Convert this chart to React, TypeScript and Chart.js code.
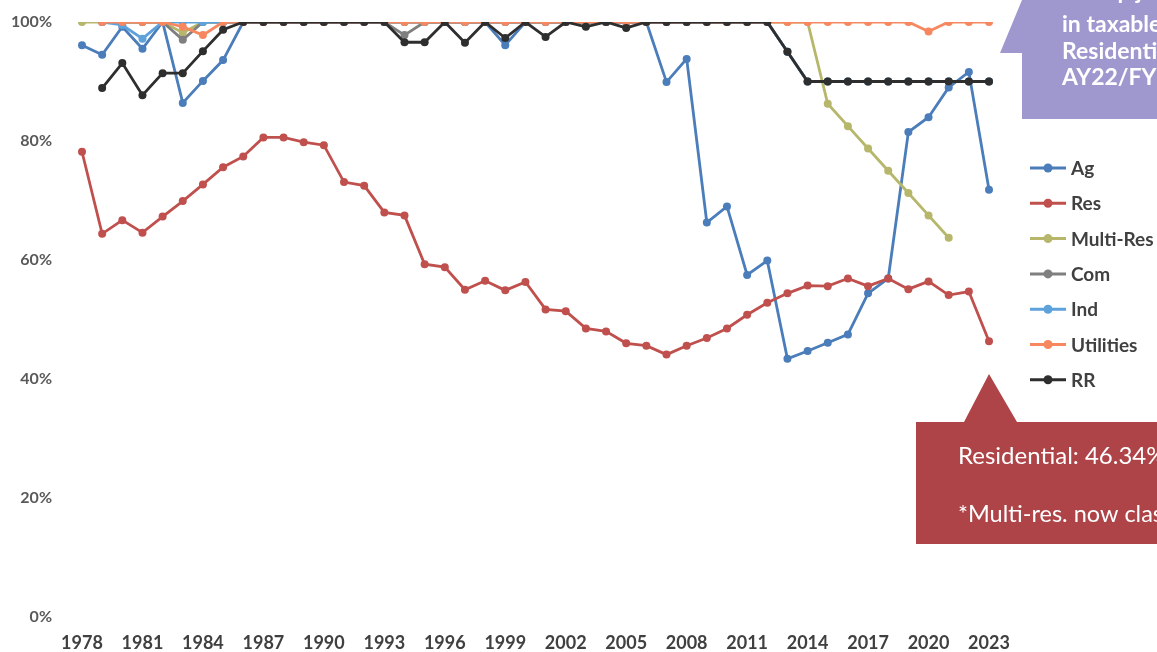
import { useEffect, useRef } from "react";
import { Chart, registerables } from "chart.js";

Chart.register(...registerables);

// Assessment years on the category axis
const years = [
  "1978", "1979", "1980", "1981", "1982", "1983", "1984", "1985", "1986", "1987",
  "1988", "1989", "1990", "1991", "1992", "1993", "1994", "1995", "1996", "1997",
  "1998", "1999", "2000", "2001", "2002", "2003", "2004", "2005", "2006", "2007",
  "2008", "2009", "2010", "2011", "2012", "2013", "2014", "2015", "2016", "2017",
  "2018", "2019", "2020", "2021", "2022", "2023",
];

// Rollback percentage per property class, one value per year
const ag = [
  96.1, 94.5, 99.2, 95.5, 100, 86.4, 90.1, 93.6, 100, 100,
  100, 100, 100, 100, 100, 100, 100, 100, 100, 100,
  100, 96.1, 100, 100, 100, 100, 100, 100, 100, 89.9,
  93.8, 66.3, 69.0, 57.5, 59.9, 43.4, 44.7, 46.1, 47.5, 54.4,
  56.9, 81.5, 84.0, 89.0, 91.6, 71.8,
];
const res = [
  78.2, 64.4, 66.7, 64.6, 67.3, 69.9, 72.7, 75.6, 77.4, 80.6,
  80.6, 79.8, 79.3, 73.1, 72.5, 68.0, 67.5, 59.3, 58.8, 55.0,
  56.5, 54.9, 56.3, 51.7, 51.4, 48.5, 48.0, 46.0, 45.6, 44.1,
  45.6, 46.9, 48.5, 50.8, 52.8, 54.4, 55.7, 55.6, 56.9, 55.6,
  56.9, 55.1, 56.4, 54.1, 54.7, 46.34,
];
const multiRes = [
  100, 100, 100, 100, 100, 98.2, 100, 100, 100, 100,
  100, 100, 100, 100, 100, 100, 100, 100, 100, 100,
  100, 100, 100, 100, 100, 100, 100, 100, 100, 100,
  100, 100, 100, 100, 100, 100, 100, 86.25, 82.5, 78.75,
  75.0, 71.25, 67.5, 63.75, null, null,
];
const com = [
  null, 100, 100, 100, 100, 97.0, 100, 100, 100, 100,
  100, 100, 100, 100, 100, 100, 97.8, 100, 100, 100,
  100, 100, 100, 100, 100, 100, 100, 100, 100, 100,
  100, 100, 100, 100, 100, 95, 90, 90, 90, 90,
  90, 90, 90, 90, 90, 90,
];
const ind = [
  null, 100, 99.5, 97.2, 100, 100, 100, 100, 100, 100,
  100, 100, 100, 100, 100, 100, 100, 100, 100, 100,
  100, 100, 100, 100, 100, 100, 100, 100, 100, 100,
  100, 100, 100, 100, 100, 95, 90, 90, 90, 90,
  90, 90, 90, 90, 90, 90,
];
const utilities = [
  null, 100, 100, 100, 100, 99.2, 97.8, 100, 100, 100,
  100, 100, 100, 100, 100, 100, 100, 100, 100, 100,
  100, 100, 100, 100, 100, 100, 100, 100, 100, 100,
  100, 100, 100, 100, 100, 100, 100, 100, 100, 100,
  100, 100, 98.4, 100, 100, 100,
];
const rr = [
  null, 88.9, 93.1, 87.7, 91.4, 91.4, 95.1, 98.7, 100, 100,
  100, 100, 100, 100, 100, 100, 96.6, 96.6, 100, 96.5,
  100, 97.3, 100, 97.5, 100, 99.2, 100, 99.0, 100, 100,
  100, 100, 100, 100, 100, 95, 90, 90, 90, 90,
  90, 90, 90, 90, 90, 90,
];

const yTicks = [0, 20, 40, 60, 80, 100];

const seriesNames = ["Ag", "Res", "Multi-Res", "Com", "Ind", "Utilities", "RR"];
const seriesData = [ag, res, multiRes, com, ind, utilities, rr];
const seriesColors = ["#4a7dba", "#c0504d", "#b7b76c", "#7f7f7f", "#5ea2dc", "#f7875f", "#2e2e2e"];

const residentialNote = "Residential: 46.34%";
const multiResNote = "*Multi-res. now classified as Res";
const topNote = ["*Sharp jump", "in taxable", "Residential", "AY22/FY23"];

const W = 1157;
const H = 652;

// Legend on the right: a line with a dot, then the class name
const sideLegend = {
  id: "sideLegend",
  afterDraw(chart: any) {
    const ctx = chart.ctx as CanvasRenderingContext2D;
    chart.data.datasets.forEach((ds: any, i: number) => {
      const y = 168 + i * 35.3;
      ctx.save();
      ctx.strokeStyle = ds.borderColor;
      ctx.lineWidth = 3;
      ctx.beginPath();
      ctx.moveTo(1030, y);
      ctx.lineTo(1066, y);
      ctx.stroke();
      ctx.fillStyle = ds.borderColor;
      ctx.beginPath();
      ctx.arc(1048, y, 4.5, 0, Math.PI * 2);
      ctx.fill();
      ctx.fillStyle = "#404040";
      ctx.font = "bold 19px Lato";
      ctx.textBaseline = "middle";
      ctx.textAlign = "left";
      ctx.fillText(ds.label, 1071, y + 1);
      ctx.restore();
    });
  },
};

// Callout boxes: purple note at the top right, red note under the last residential point
const callouts = {
  id: "callouts",
  afterDraw(chart: any) {
    const ctx = chart.ctx as CanvasRenderingContext2D;
    ctx.save();

    // purple box with a pointer on its left side
    ctx.fillStyle = "#9e98cf";
    ctx.beginPath();
    ctx.moveTo(1022, -5);
    ctx.lineTo(W + 5, -5);
    ctx.lineTo(W + 5, 119);
    ctx.lineTo(1022, 119);
    ctx.lineTo(1022, 53);
    ctx.lineTo(1000, 53);
    ctx.lineTo(1022, 0);
    ctx.closePath();
    ctx.fill();
    ctx.fillStyle = "#ffffff";
    ctx.font = "bold 23px Lato";
    ctx.textAlign = "left";
    ctx.textBaseline = "alphabetic";
    ctx.fillText(topNote[0], 1062, -1);
    topNote.slice(1).forEach((t, i) => ctx.fillText(t, 1062, 32 + i * 26.6));

    // red box with a pointer up toward the 2023 residential value
    const meta = chart.getDatasetMeta(1);
    const last = meta.data[meta.data.length - 1];
    const tipX = last.x;
    ctx.fillStyle = "#ae4447";
    ctx.beginPath();
    ctx.moveTo(916, 422);
    ctx.lineTo(tipX - 25, 422);
    ctx.lineTo(tipX, 374);
    ctx.lineTo(tipX + 28, 422);
    ctx.lineTo(W + 5, 422);
    ctx.lineTo(W + 5, 544);
    ctx.lineTo(916, 544);
    ctx.closePath();
    ctx.fill();
    ctx.fillStyle = "#ffffff";
    ctx.font = "24px Lato";
    ctx.textBaseline = "middle";
    ctx.fillText(residentialNote, 958, 456);
    ctx.font = "23.5px Lato";
    ctx.fillText(multiResNote, 958, 514);
    ctx.restore();
  },
};

export default function App() {
  const ref = useRef<HTMLCanvasElement | null>(null);

  useEffect(() => {
    if (!ref.current) return;
    // later classes are painted over earlier ones
    const drawOrder = [7, 6, 5, 4, 3, 2, 1];
    const chart = new Chart(ref.current, {
      type: "line",
      data: {
        labels: years,
        datasets: seriesNames.map((name, i) => ({
          label: name,
          data: seriesData[i],
          borderColor: seriesColors[i],
          backgroundColor: seriesColors[i],
          pointBackgroundColor: seriesColors[i],
          pointBorderColor: seriesColors[i],
          borderWidth: 2.8,
          pointRadius: 4,
          pointBorderWidth: 0,
          tension: 0,
          spanGaps: false,
          order: drawOrder[i],
        })),
      },
      options: {
        responsive: false,
        animation: false,
        devicePixelRatio: 1,
        layout: { padding: { left: 0, right: W - 989, top: 22, bottom: 0 } },
        plugins: {
          legend: { display: false },
          tooltip: { enabled: false },
        },
        scales: {
          x: {
            offset: false,
            grid: { display: false, drawTicks: false },
            border: { display: false },
            afterFit: (s: any) => {
              s.height = 35;
            },
            ticks: {
              autoSkip: false,
              maxRotation: 0,
              padding: 15,
              color: "#404040",
              font: { family: "Lato", size: 18, weight: "bold" },
              callback: (_v: any, i: number) => (i % 3 === 0 ? years[i] : ""),
            },
          },
          y: {
            min: 0,
            max: 100,
            afterBuildTicks: (s: any) => {
              s.ticks = yTicks.map((v) => ({ value: v }));
            },
            afterFit: (s: any) => {
              s.width = 82;
              s.paddingTop = 10;
              s.paddingBottom = 10;
            },
            grid: { display: false, drawTicks: false },
            border: { display: false },
            ticks: {
              padding: 30,
              color: "#595959",
              font: { family: "Lato", size: 16, weight: "bold" },
              callback: (v: any) => `${v}%`,
            },
          },
        },
      },
      plugins: [sideLegend, callouts],
    });
    return () => chart.destroy();
  }, []);

  return (
    <div style={{ position: "fixed", left: 0, top: 0, width: W, height: H, background: "#fff" }}>
      <canvas ref={ref} width={W} height={H} style={{ display: "block" }} />
    </div>
  );
}
